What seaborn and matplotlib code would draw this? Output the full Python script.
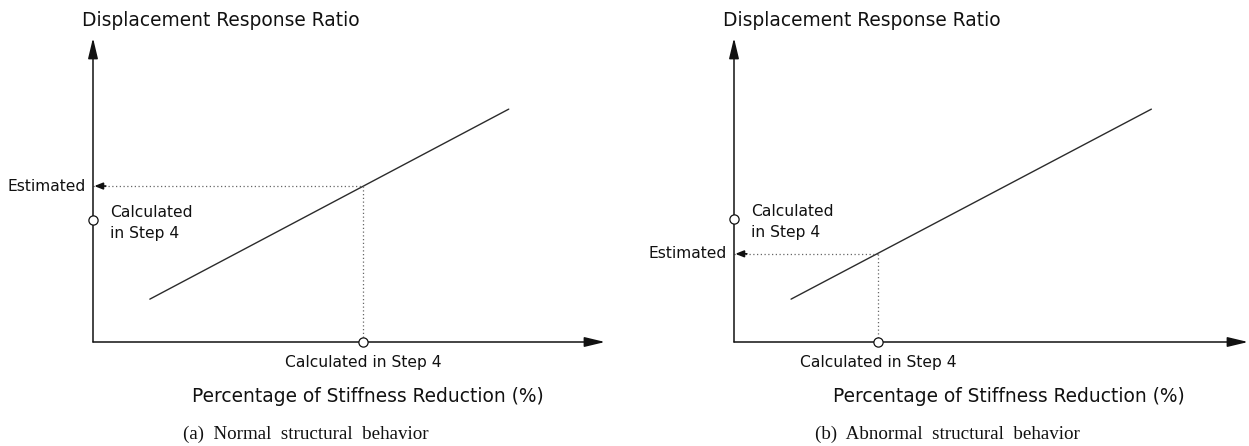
import numpy as np
import pandas as pd
import matplotlib
matplotlib.use("Agg")
import matplotlib.pyplot as plt
import seaborn as sns

# Relation between stiffness reduction (%) and displacement response ratio
line_stiffness = [11.1, 81.2]
line_ratio = [14.1, 76.6]

captions = ["(a)  Normal  structural  behavior", "(b)  Abnormal  structural  behavior"]
step4_stiffness = [52.7, 28.0]   # stiffness reduction calculated in Step 4
step4_ratio = [40.1, 40.6]       # response ratio calculated in Step 4
estimated_ratio = [51.3, 29.0]   # response ratio estimated from the relation

title_text = "Displacement Response Ratio"
xlabel_text = "Percentage of Stiffness Reduction (%)"
step_x_text = "Calculated in Step 4"
step_y_text = "Calculated\nin Step 4"
estimated_text = "Estimated"

sns.set_theme(style="white")
plt.rcParams["font.family"] = ["DejaVu Sans"]

W, H = 1249, 446
fig = plt.figure(figsize=(W / 100, H / 100), dpi=100)
fig.patch.set_facecolor("white")

ink = "#111111"
sans = dict(family="DejaVu Sans", color=ink)
serif = dict(family="Liberation Serif", color=ink)

origins = [93, 734]
x_lengths = [512, 514]
y_origin, y_top = 342, 38

for i in range(2):
    left = origins[i] / W
    bottom = (H - y_origin) / H
    ax = fig.add_axes([left, bottom, x_lengths[i] / W, (y_origin - y_top) / H])
    ax.set_xlim(0, 100)
    ax.set_ylim(0, 100)
    ax.axis("off")

    # axes drawn as arrows
    arrow = dict(arrowstyle="-|>,head_length=1.25,head_width=0.3", color=ink,
                 lw=1.1, mutation_scale=10, shrinkA=0, shrinkB=0)
    ax.annotate("", xy=(1, 0), xytext=(0, 0), xycoords="axes fraction",
                arrowprops=arrow)
    ax.annotate("", xy=(0, 1), xytext=(0, 0), xycoords="axes fraction",
                arrowprops=arrow)

    # relation line
    df = pd.DataFrame({"stiffness": line_stiffness, "ratio": line_ratio})
    sns.lineplot(data=df, x="stiffness", y="ratio", ax=ax, color="#2b2b2b",
                 lw=1.0)
    ax.set_xlabel("")
    ax.set_ylabel("")

    sx, sy, ey = step4_stiffness[i], step4_ratio[i], estimated_ratio[i]

    # dotted guides
    ax.plot([0, sx], [ey, ey], ls=(0, (1, 2)), color="#666666", lw=0.9)
    ax.plot([sx, sx], [ey, 0], ls=(0, (1, 2)), color="#666666", lw=0.9)
    ax.annotate("", xy=(0.25, ey), xytext=(2.5, ey),
                arrowprops=dict(arrowstyle="-|>,head_length=0.5,head_width=0.2",
                                color=ink, lw=1.2, mutation_scale=10,
                                shrinkA=0, shrinkB=0))

    # Step 4 values
    ax.scatter([sx, 0], [0, sy], s=44, facecolor="white", edgecolor=ink,
               linewidth=0.9, zorder=6, clip_on=False)

    # texts
    ax.annotate(title_text, xy=(0, 1), xycoords="axes fraction",
                xytext=(-11, 18), textcoords="offset pixels",
                ha="left", va="center", fontsize=13.4, **sans)
    ax.annotate(estimated_text, xy=(0, ey), xycoords="data",
                xytext=(-7, 0), textcoords="offset pixels",
                ha="right", va="center", fontsize=11.2, **sans)
    ax.annotate(step_y_text, xy=(0, sy), xycoords="data",
                xytext=(17, -3), textcoords="offset pixels",
                ha="left", va="center", fontsize=11.2, linespacing=1.5, **sans)
    ax.annotate(step_x_text, xy=(sx, 0), xycoords="data",
                xytext=(0, -21), textcoords="offset pixels",
                ha="center", va="center", fontsize=11.2, **sans)
    ax.annotate(xlabel_text, xy=(0, 0), xycoords="axes fraction",
                xytext=(275, -54), textcoords="offset pixels",
                ha="center", va="center", fontsize=13.4, **sans)
    ax.annotate(captions[i], xy=(0, 0), xycoords="axes fraction",
                xytext=(213, -92), textcoords="offset pixels",
                ha="center", va="center", fontsize=13.7, **serif)

fig.savefig("out.png", dpi=100, facecolor="white")
